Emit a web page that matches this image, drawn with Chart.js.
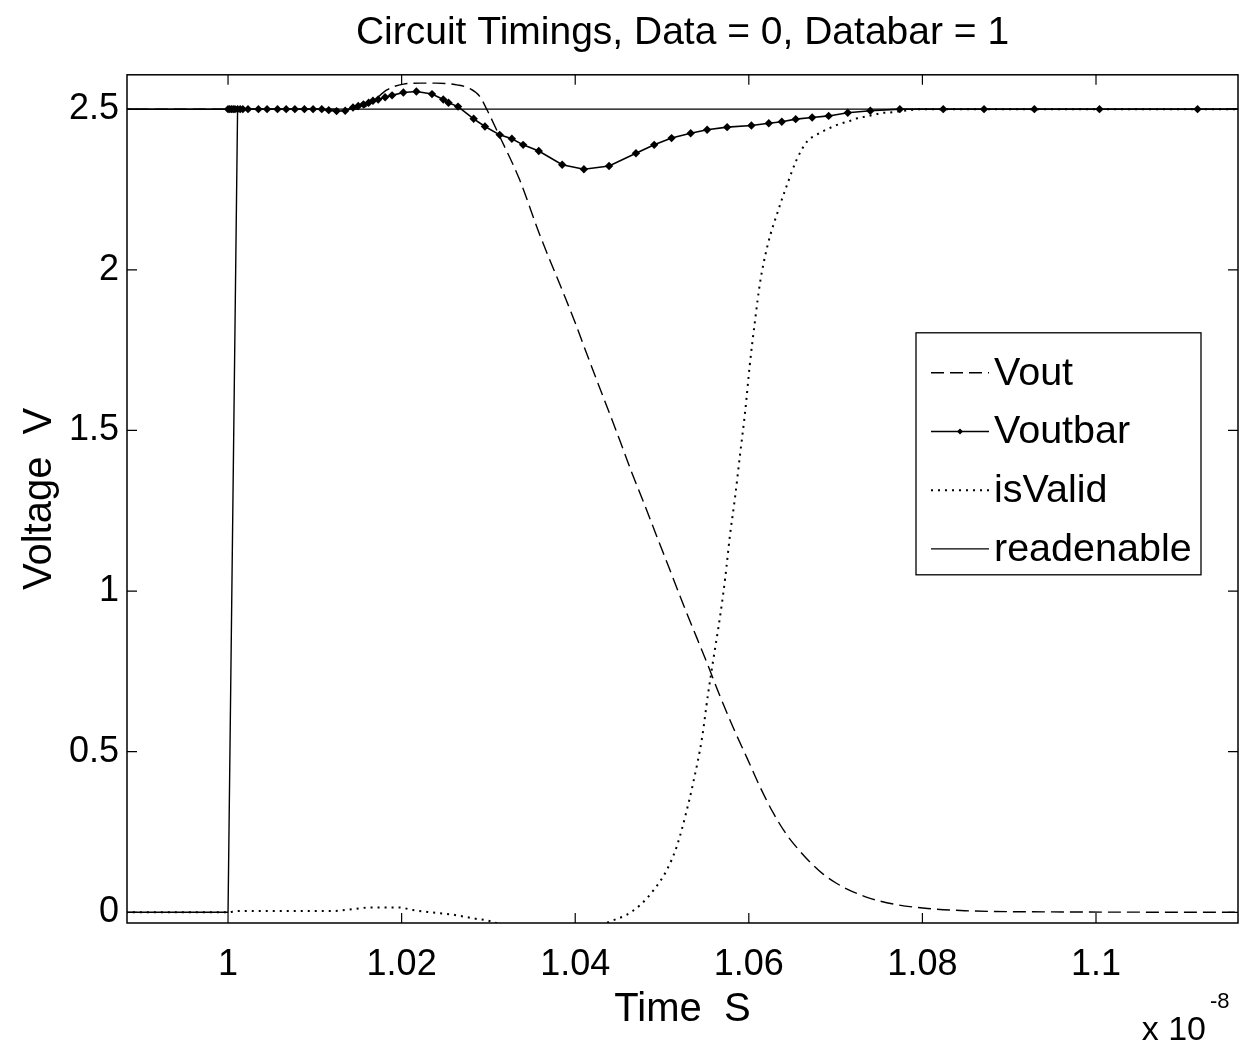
<!DOCTYPE html>
<html>
<head>
<meta charset="utf-8">
<title>Circuit Timings</title>
<script src="https://cdn.jsdelivr.net/npm/chart.js@4.4.0/dist/chart.umd.min.js"></script>
<style>
  html, body { margin: 0; padding: 0; background: #fff; }
  canvas { display: block; }
</style>
</head>
<body>
<canvas id="timingChart" width="1243" height="1044"></canvas>
<script>
// time is in units of 1e-8 s (see the "x 10^-8" note under the axis)
const xTicks = [1, 1.02, 1.04, 1.06, 1.08, 1.1];
const yTicks = [0, 0.5, 1, 1.5, 2, 2.5];

const voutTime = [0.985, 1.0, 1.015, 1.0165, 1.0183, 1.0202, 1.0221, 1.024, 1.0265, 1.0278, 1.029, 1.0298,
  1.0313, 1.0336, 1.0359, 1.0386, 1.040, 1.0411, 1.0425, 1.044, 1.0454, 1.0465, 1.0479, 1.0494, 1.0507,
  1.0525, 1.054, 1.0552, 1.0565, 1.0582, 1.0598, 1.0613, 1.0628, 1.0644, 1.0659, 1.0671, 1.0686, 1.07,
  1.0712, 1.0738, 1.0772, 1.0806, 1.0849, 1.09, 1.12];
const voutValues = [2.5, 2.5, 2.5, 2.52, 2.56, 2.578, 2.581, 2.581, 2.575, 2.565, 2.54, 2.5,
  2.415, 2.28, 2.11, 1.93, 1.835, 1.755, 1.655, 1.55, 1.45, 1.37, 1.275, 1.17, 1.08,
  0.955, 0.855, 0.775, 0.685, 0.575, 0.48, 0.39, 0.31, 0.24, 0.19, 0.155, 0.118, 0.092,
  0.074, 0.045, 0.023, 0.012, 0.005, 0.002, 0.0];

const voutbarTime = [0.985, 1.0, 1.0002, 1.0004, 1.0006, 1.0008, 1.0011, 1.0014, 1.0017, 1.0023, 1.0035,
  1.0045, 1.0057, 1.0067, 1.0077, 1.0088, 1.0098, 1.0108, 1.0116, 1.0125, 1.0135, 1.0144, 1.015,
  1.0156, 1.0162, 1.0167, 1.0173, 1.0181, 1.0189, 1.0202, 1.0217, 1.0235, 1.0248, 1.0254, 1.0265,
  1.0283, 1.0296, 1.0313, 1.0327, 1.034, 1.0358, 1.0385, 1.041, 1.0439, 1.047, 1.0491, 1.0511,
  1.0533, 1.0552, 1.0575, 1.0603, 1.0623, 1.0638, 1.0654, 1.0673, 1.0692, 1.0714, 1.074, 1.0774,
  1.0824, 1.0871, 1.0929, 1.1004, 1.1117, 1.12];
const voutbarValues = [2.5, 2.5, 2.5, 2.5, 2.5, 2.5, 2.5, 2.5, 2.5, 2.5, 2.5,
  2.5, 2.5, 2.5, 2.5, 2.5, 2.5, 2.5, 2.497, 2.494, 2.495, 2.505, 2.51,
  2.515, 2.52, 2.526, 2.53, 2.537, 2.543, 2.552, 2.555, 2.547, 2.53, 2.52, 2.508,
  2.47, 2.446, 2.42, 2.408, 2.389, 2.37, 2.327, 2.313, 2.323, 2.363, 2.389, 2.41,
  2.425, 2.436, 2.444, 2.449, 2.456, 2.461, 2.469, 2.474, 2.479, 2.489, 2.495, 2.5,
  2.5, 2.5, 2.5, 2.5, 2.5, 2.5];

const isValidTime = [0.985, 1.0, 1.001, 1.012, 1.0144, 1.0164, 1.0197, 1.0213, 1.0234, 1.0258, 1.0283,
  1.0304, 1.033, 1.037, 1.041, 1.0438, 1.0459, 1.0475, 1.049, 1.0505, 1.0517, 1.0528, 1.0536,
  1.0546, 1.0553, 1.0559, 1.0567, 1.0573, 1.0578, 1.0584, 1.059, 1.0596, 1.0601, 1.0607, 1.0613,
  1.0622, 1.0634, 1.0644, 1.0655, 1.0667, 1.0678, 1.0697, 1.0707, 1.0717, 1.0725, 1.0734, 1.0743,
  1.0753, 1.0763, 1.0782, 1.08, 1.12];
const isValidValues = [0.0, 0.0, 0.004, 0.004, 0.01, 0.015, 0.015, 0.007, 0.0, -0.007, -0.019,
  -0.029, -0.06, -0.09, -0.07, -0.031, -0.008, 0.023, 0.068, 0.129, 0.205, 0.312, 0.404,
  0.541, 0.679, 0.785, 0.923, 1.045, 1.167, 1.289, 1.427, 1.564, 1.701, 1.838, 1.961,
  2.08, 2.186, 2.264, 2.342, 2.399, 2.42, 2.446, 2.456, 2.464, 2.472, 2.477, 2.482,
  2.488, 2.49, 2.496, 2.5, 2.5];

const readTime = [0.985, 1.0, 1.0011, 1.12];
const readValues = [0.0, 0.0, 2.5, 2.5];

const seriesNames = ['Vout', 'Voutbar', 'isValid', 'readenable'];

function toPoints(xs, ys) {
    return xs.map((x, i) => ({ x: x, y: ys[i] }));
}

const FONT = "'Liberation Sans', Arial, Helvetica, sans-serif";

// box, inward ticks on all four sides, legend and the exponent note
const framePlugin = {
    id: 'frame',
    afterDraw(chart) {
        const { ctx, chartArea: a, scales } = chart;
        ctx.save();
        ctx.strokeStyle = '#000';
        ctx.lineWidth = 1.5;
        ctx.strokeRect(a.left, a.top, a.right - a.left, a.bottom - a.top);

        ctx.lineWidth = 1.2;
        ctx.beginPath();
        xTicks.forEach(v => {
            const px = scales.x.getPixelForValue(v);
            ctx.moveTo(px, a.bottom); ctx.lineTo(px, a.bottom - 10);
            ctx.moveTo(px, a.top); ctx.lineTo(px, a.top + 10);
        });
        yTicks.forEach(v => {
            const py = scales.y.getPixelForValue(v);
            ctx.moveTo(a.left, py); ctx.lineTo(a.left + 10, py);
            ctx.moveTo(a.right, py); ctx.lineTo(a.right - 10, py);
        });
        ctx.stroke();

        // legend
        const lx = a.right - 322, ly = a.top + 258, lw = 285, lh = 242;
        ctx.fillStyle = '#fff';
        ctx.fillRect(lx, ly, lw, lh);
        ctx.lineWidth = 1.3;
        ctx.strokeRect(lx, ly, lw, lh);
        ctx.font = '39.5px ' + FONT;
        ctx.textBaseline = 'middle';
        chart.data.datasets.forEach((ds, i) => {
            const cy = ly + 40 + i * 58.7;
            ctx.save();
            ctx.strokeStyle = '#000';
            ctx.lineWidth = ds.borderWidth;
            ctx.setLineDash(ds.borderDash || []);
            ctx.beginPath();
            ctx.moveTo(lx + 15, cy);
            ctx.lineTo(lx + 73, cy);
            ctx.stroke();
            ctx.restore();
            if (ds.pointRadius > 0) {
                ctx.fillStyle = '#000';
                ctx.beginPath();
                ctx.moveTo(lx + 44, cy - 3); ctx.lineTo(lx + 47, cy);
                ctx.lineTo(lx + 44, cy + 3); ctx.lineTo(lx + 41, cy);
                ctx.closePath();
                ctx.fill();
            }
            ctx.fillStyle = '#000';
            ctx.fillText(ds.label, lx + 78, cy + 1);
        });

        // x 10^-8
        ctx.textBaseline = 'alphabetic';
        ctx.textAlign = 'right';
        ctx.font = '34px ' + FONT;
        ctx.fillText('x 10', a.right - 32, 1040);
        ctx.textAlign = 'left';
        ctx.font = '22px ' + FONT;
        ctx.fillText('-8', a.right - 28, 1008);
        ctx.restore();
    }
};

const ctx = document.getElementById('timingChart').getContext('2d');

const chart = new Chart(ctx, {
    type: 'line',
    data: {
        datasets: [{
            label: seriesNames[0],
            data: toPoints(voutTime, voutValues),
            borderColor: '#000',
            borderWidth: 1.4,
            borderDash: [13, 6],
            pointRadius: 0,
            cubicInterpolationMode: 'monotone',
        }, {
            label: seriesNames[1],
            data: toPoints(voutbarTime, voutbarValues),
            borderColor: '#000',
            borderWidth: 1.6,
            pointRadius: 4.2,
            pointStyle: 'rectRot',
            pointBackgroundColor: '#000',
            pointBorderColor: '#000',
            pointBorderWidth: 0,
            tension: 0,
        }, {
            label: seriesNames[2],
            data: toPoints(isValidTime, isValidValues),
            borderColor: '#000',
            borderWidth: 2,
            borderDash: [2, 5],
            pointRadius: 0,
            cubicInterpolationMode: 'monotone',
        }, {
            label: seriesNames[3],
            data: toPoints(readTime, readValues),
            borderColor: '#000',
            borderWidth: 1.4,
            pointRadius: 0,
            tension: 0,
        }]
    },
    options: {
        responsive: false,
        animation: false,
        devicePixelRatio: 1,
        layout: { padding: { left: 0, right: 5, top: 0, bottom: 0 } },
        scales: {
            x: {
                type: 'linear',
                min: 0.98836,
                max: 1.11636,
                grid: { display: false, drawTicks: false },
                border: { display: false },
                afterBuildTicks: axis => { axis.ticks = xTicks.map(v => ({ value: v })); },
                afterFit: axis => { axis.height = 121; },
                ticks: {
                    color: '#000',
                    font: { family: FONT, size: 36 },
                    padding: 20,
                    maxRotation: 0,
                    autoSkip: false,
                    callback: v => String(v),
                },
                title: {
                    display: true,
                    text: 'Time  S',
                    color: '#000',
                    font: { family: FONT, size: 40 },
                    padding: { top: 0, bottom: 10 },
                }
            },
            y: {
                type: 'linear',
                min: -0.0333,
                max: 2.607,
                grid: { display: false, drawTicks: false },
                border: { display: false },
                afterBuildTicks: axis => { axis.ticks = yTicks.map(v => ({ value: v })); },
                afterFit: axis => { axis.width = 127; },
                ticks: {
                    color: '#000',
                    font: { family: FONT, size: 36 },
                    padding: 8,
                    autoSkip: false,
                    callback: v => String(v),
                },
                title: {
                    display: true,
                    text: 'Voltage  V',
                    color: '#000',
                    font: { family: FONT, size: 40 },
                    padding: { top: 16, bottom: 0 },
                }
            }
        },
        plugins: {
            legend: { display: false },
            tooltip: { enabled: false },
            title: {
                display: true,
                fullSize: false,
                text: 'Circuit Timings, Data = 0, Databar = 1',
                color: '#000',
                font: { family: FONT, size: 39, weight: 'normal' },
                padding: { top: 10, bottom: 18 },
            }
        }
    },
    plugins: [framePlugin]
});
</script>
</body>
</html>
